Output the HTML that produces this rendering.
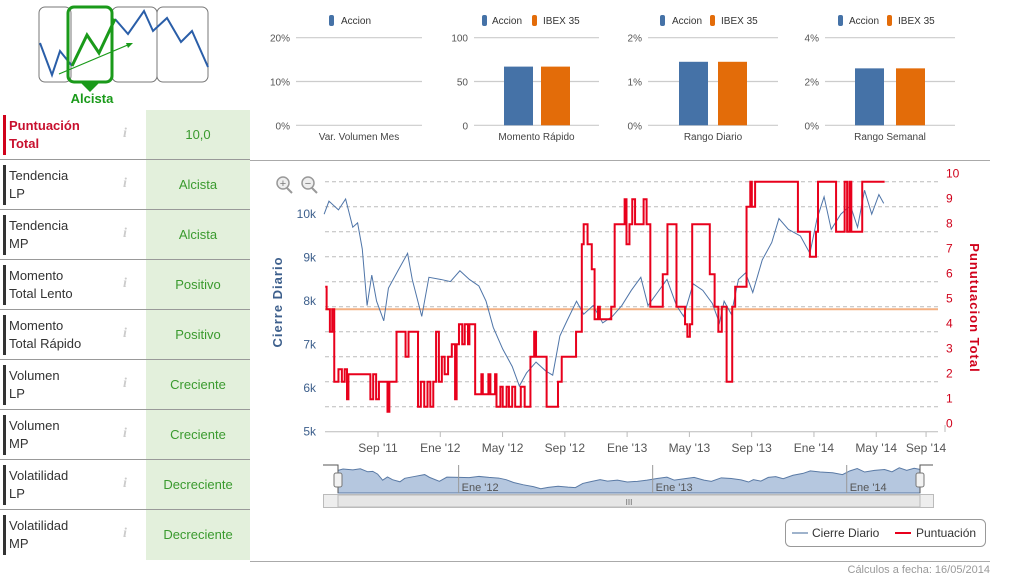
<!DOCTYPE html>
<html><head><meta charset="utf-8">
<style>
body{margin:0;width:1009px;height:575px;background:#fff;font-family:"Liberation Sans",sans-serif;position:relative;overflow:hidden}
.row{position:absolute;left:0;width:250px;height:49px;border-bottom:1px solid #999}
.bar{position:absolute;left:3px;top:5px;width:3px;height:40px;background:#333}
.lab{position:absolute;left:9px;top:7px;font-size:13px;line-height:18px;color:#333}
.inf{position:absolute;left:123px;top:16px;font-size:14px;font-style:italic;font-family:"Liberation Serif",serif;color:#ccc;font-weight:bold}
.val{position:absolute;left:146px;top:0;width:104px;height:49px;background:#e3f0dc;color:#3a9a2e;font-size:13px;text-align:center;line-height:49px}
svg text{font-family:"Liberation Sans",sans-serif}
</style></head><body>
<div style="position:absolute;left:0;top:0;width:250px;height:575px">
<svg width="250" height="110" style="position:absolute;left:0;top:0">
<rect x="39" y="7" width="32" height="75" rx="6" fill="#fff" stroke="#777"/>
<rect x="112" y="7" width="45" height="75" rx="6" fill="#fff" stroke="#777"/>
<rect x="157" y="7" width="51" height="75" rx="6" fill="#fff" stroke="#777"/>
<polyline points="40,43 52,75 60,51 72,66" fill="none" stroke="#2a5ea8" stroke-width="2"/>
<polyline points="115,19 128,34 144,11 153,31 167,18 181,42 192,31 208,67" fill="none" stroke="#2a5ea8" stroke-width="2"/>
<rect x="68" y="7" width="44" height="75" rx="6" fill="none" stroke="#1a9a1a" stroke-width="3"/>
<polyline points="72,66 87,35 99,53 115,19" fill="none" stroke="#1a9a1a" stroke-width="3"/>
<line x1="59" y1="74" x2="130" y2="44" stroke="#1a9a1a" stroke-width="1.2"/>
<polygon points="133,43 126,43 128,48" fill="#1a9a1a"/>
<polygon points="80,82 100,82 90,92" fill="#1a9a1a"/>
<text x="92" y="103" text-anchor="middle" font-size="13" font-weight="bold" fill="#1a9a1a">Alcista</text>
</svg>
<div class="row" style="top:110px"><div class="bar" style="background:#d0021b"></div><div class="lab" style="color:#c8102e;font-weight:bold">Puntuación<br>Total</div><div class="inf">i</div><div class="val">10,0</div></div>
<div class="row" style="top:160px"><div class="bar"></div><div class="lab">Tendencia<br>LP</div><div class="inf">i</div><div class="val">Alcista</div></div>
<div class="row" style="top:210px"><div class="bar"></div><div class="lab">Tendencia<br>MP</div><div class="inf">i</div><div class="val">Alcista</div></div>
<div class="row" style="top:260px"><div class="bar"></div><div class="lab">Momento<br>Total Lento</div><div class="inf">i</div><div class="val">Positivo</div></div>
<div class="row" style="top:310px"><div class="bar"></div><div class="lab">Momento<br>Total Rápido</div><div class="inf">i</div><div class="val">Positivo</div></div>
<div class="row" style="top:360px"><div class="bar"></div><div class="lab">Volumen<br>LP</div><div class="inf">i</div><div class="val">Creciente</div></div>
<div class="row" style="top:410px"><div class="bar"></div><div class="lab">Volumen<br>MP</div><div class="inf">i</div><div class="val">Creciente</div></div>
<div class="row" style="top:460px"><div class="bar"></div><div class="lab">Volatilidad<br>LP</div><div class="inf">i</div><div class="val">Decreciente</div></div>
<div class="row" style="top:510px;border-bottom:none;height:50px"><div class="bar"></div><div class="lab">Volatilidad<br>MP</div><div class="inf">i</div><div class="val" style="height:50px;line-height:50px">Decreciente</div></div>
</div>
<svg id="main" width="1009" height="575" style="position:absolute;left:0;top:0">
<line x1="250" y1="160.5" x2="990" y2="160.5" stroke="#aaa"/>
<line x1="250" y1="561.5" x2="990" y2="561.5" stroke="#aaa"/>
<text x="990" y="573" text-anchor="end" font-size="11" fill="#999">Cálculos a fecha: 16/05/2014</text>
<g><circle cx="283" cy="183" r="6" fill="#eee" stroke="#999" stroke-width="1.5"/><line x1="287" y1="188" x2="292" y2="193" stroke="#999" stroke-width="2"/><text x="283" y="187" text-anchor="middle" font-size="11" fill="#777">+</text></g>
<g><circle cx="308" cy="183" r="6" fill="#eee" stroke="#999" stroke-width="1.5"/><line x1="312" y1="188" x2="317" y2="193" stroke="#999" stroke-width="2"/><text x="308" y="187" text-anchor="middle" font-size="11" fill="#777">−</text></g>
<g id="grid"></g><g id="series"></g><g id="axes"></g><g id="nav"></g><g id="minis"></g>
<text transform="translate(282,302) rotate(-90)" text-anchor="middle" font-size="13" font-weight="bold" fill="#3d5f8c" letter-spacing="1">Cierre Diario</text>
<text transform="translate(970,308) rotate(90)" text-anchor="middle" font-size="13" font-weight="bold" fill="#d0021b" letter-spacing="1">Punutuacion Total</text>
<g>
<rect x="785.5" y="519.5" width="200" height="27" rx="5" fill="#fff" stroke="#999"/>
<g><line x1="792" y1="533" x2="808" y2="533" stroke="#9fb3cc" stroke-width="2"/><text x="812" y="537" font-size="12" fill="#333">Cierre Diario</text></g>
<g><line x1="895" y1="533" x2="911" y2="533" stroke="#e8001c" stroke-width="2"/><text x="916" y="537" font-size="12" fill="#333">Puntuación</text></g>
</g>
</svg>
<script>
// Main chart data (t = months since Jan 2011)
const priceT=[4.54,4.85,5.46,5.92,6.38,6.69,6.99,7.30,7.60,7.91,8.37,8.67,9.28,9.90,10.20,10.81,11.27,12.04,12.65,13.26,13.87,14.48,14.94,15.40,16.01,16.62,17.08,17.54,18.15,18.76,19.22,19.68,20.14,20.75,21.21,21.82,22.43,23.05,23.66,24.27,24.88,25.34,25.95,26.56,27.17,27.63,28.24,28.86,29.47,29.93,30.23,30.69,31.15,31.61,32.07,32.68,33.29,33.75,34.36,35.13,35.74,36.20,36.65,37.11,37.72,38.34,38.80,39.25,39.71,40.17,40.48];
const priceK=[10.0,10.3,10.1,10.35,9.7,9.8,9.2,7.9,8.6,8.0,7.55,8.3,8.7,9.1,8.5,7.65,8.55,8.5,8.45,8.7,8.5,8.35,8.0,7.4,6.9,6.5,6.05,6.35,6.6,6.4,6.3,7.2,7.55,8.0,7.7,7.9,7.5,7.65,7.9,8.25,8.55,7.9,8.2,8.5,7.9,7.65,8.4,8.25,7.95,7.5,8.0,7.7,8.5,8.65,8.2,8.95,9.35,9.9,9.65,9.5,9.1,9.9,10.4,9.65,10.0,10.2,9.7,10.55,10.0,10.45,10.25];
const scoreT=[4.61,4.70,4.91,5.06,5.19,5.46,5.68,5.86,6.01,6.10,7.51,7.69,7.88,8.06,8.61,8.73,9.19,9.77,9.96,10.57,10.75,10.97,11.18,11.36,11.55,11.73,11.91,12.10,12.28,12.50,12.74,12.95,13.05,13.20,13.41,13.57,13.78,13.87,14.24,14.64,14.73,15.09,15.22,15.52,15.61,15.86,16.01,16.26,16.41,16.62,16.81,17.17,17.42,17.79,18.03,18.15,18.83,19.56,19.80,20.72,21.09,21.21,21.46,21.73,21.91,22.13,22.25,22.98,23.20,23.84,23.96,24.15,24.33,24.51,25.06,25.25,25.49,26.29,26.59,27.17,27.72,27.87,28.03,28.18,29.31,29.62,29.86,30.08,30.39,30.75,30.94,31.67,31.91,32.01,32.22,32.37,34.97,35.74,36.13,36.26,37.42,37.97,38.13,38.28,38.40,39.10,40.54];
const scoreV=[5.8,4.9,4.0,4.9,2.0,2.5,2.0,2.5,1.3,2.3,1.3,2.3,1.3,2.0,0.8,2.0,4.0,3.0,4.0,1.0,2.0,1.0,2.0,1.0,2.0,4.0,2.0,3.0,2.3,3.0,3.5,1.3,3.5,4.3,3.5,4.3,3.5,4.3,1.5,2.3,1.5,2.3,1.5,2.3,1.0,1.8,1.0,1.8,1.0,1.8,1.0,1.8,1.0,3.0,4.0,3.0,1.0,2.0,3.0,4.0,7.5,8.3,7.5,6.5,4.5,5.0,4.5,5.0,8.3,9.3,7.5,8.3,9.3,8.3,9.3,8.3,5.0,6.3,8.3,5.0,4.3,3.8,4.3,8.3,6.3,5.0,4.0,5.0,2.0,5.0,5.8,9.0,10,9.0,10,10,8.0,7.0,8.0,10,8.0,10,8.0,10,8.0,10,10];
const refLine=4.9;
const xTickT=[8,12,16,20,24,28,32,36,40,43.2];
const xTickLabels=["Sep '11","Ene '12","May '12","Sep '12","Ene '13","May '13","Sep '13","Ene '14","May '14","Sep '14"];
const leftTicks=[5,6,7,8,9,10];
const rightTicks=[0,1,2,3,4,5,6,7,8,9,10];
const navTickT=[12,24,36];
const navTickLabels=["Ene '12","Ene '13","Ene '14"];
// mini bar charts
const miniTitles=["Var. Volumen Mes","Momento Rápido","Rango Diario","Rango Semanal"];
const miniAccion=[0,67,1.45,2.6];
const miniIbex=[null,67,1.45,2.6];
const miniMax=[20,100,2,4];
const miniTickLabels=[["0%","10%","20%"],["0","50","100"],["0%","1%","2%"],["0%","2%","4%"]];

const NS="http://www.w3.org/2000/svg";
function mk(p,tag,at){const e=document.createElementNS(NS,tag);for(const k in at)e.setAttribute(k,at[k]);p.appendChild(e);return e;}
const X=t=>378+(t-8)*15.57;
const YL=k=>431.7-(k-5)*43.5;
const YR=v=>431.7-v*25;
const grid=document.getElementById('grid'),ser=document.getElementById('series'),ax=document.getElementById('axes'),nav=document.getElementById('nav'),mini=document.getElementById('minis');
rightTicks.forEach(v=>{
  const l=mk(grid,'line',{x1:325,x2:938,y1:YR(v),y2:YR(v),stroke:'#bbb','stroke-dasharray':v===0?'':'4,3'});
  
  
  const t=mk(ax,'text',{x:946,y:YR(v)-4,'font-size':12,fill:'#d0021b'});t.textContent=v;
  
  
});
mk(ax,'line',{x1:945,x2:945,y1:425,y2:432,stroke:'#bbb'});
leftTicks.forEach(k=>{
  const t=mk(ax,'text',{x:316,y:YL(k)+4,'font-size':12,fill:'#3d5f8c','text-anchor':'end'});t.textContent=k+'k';
  
  
});
xTickT.forEach((tt,i)=>{
  mk(ax,'line',{x1:X(Math.min(tt,44)),x2:X(Math.min(tt,44)),y1:432,y2:437,stroke:'#bbb'});
  const t=mk(ax,'text',{x:X(tt),y:452,'font-size':12,fill:'#555','text-anchor':'middle'});t.textContent=xTickLabels[i];
  
  
});
const rl=mk(ser,'line',{x1:325,x2:938,y1:YR(refLine),y2:YR(refLine),stroke:'#f4b183','stroke-width':2});


const pp=mk(ser,'polyline',{points:priceT.map((t,i)=>X(t)+','+YL(priceK[i])).join(' '),fill:'none',stroke:'#4f75a8','stroke-width':1});


let sp=[];scoreT.forEach((t,i)=>{if(i>0)sp.push(X(t)+','+YR(scoreV[i-1]));sp.push(X(t)+','+YR(scoreV[i]));});
const sl=mk(ser,'polyline',{points:sp.join(' '),fill:'none',stroke:'#e8001c','stroke-width':2});


// navigator
const NX=t=>338+(t-4.54)*16.17, NY=k=>469+(10.3-k)*4.65;
const nb=mk(nav,'rect',{x:338,y:465,width:582,height:28,fill:'#fff',stroke:'none'});


let ap='338,493 '+priceT.map((t,i)=>NX(t)+','+NY(priceK[i])).join(' ')+' 920,'+NY(priceK[priceK.length-1])+' 920,493';
const na=mk(nav,'polygon',{points:ap,fill:'#b5c7df',stroke:'#5a7aa5','stroke-width':1});


navTickT.forEach((tt,i)=>{mk(nav,'line',{x1:NX(tt),x2:NX(tt),y1:465,y2:493,stroke:'#999'});
  const t=mk(nav,'text',{x:NX(tt)+3,y:491,'font-size':11,fill:'#555'});t.textContent=navTickLabels[i];
  
  });
mk(nav,'polyline',{points:'323,465 338,465 338,493',fill:'none',stroke:'#555'});
mk(nav,'polyline',{points:'933,465 920,465 920,493',fill:'none',stroke:'#555'});
[338,920].forEach(x=>{const h=mk(nav,'rect',{x:x-4,y:473,width:8,height:14,rx:2,fill:'#f2f2f2',stroke:'#777'});
  
  });
const sb=mk(nav,'rect',{x:323.5,y:494.5,width:610,height:13,fill:'#eee',stroke:'#bbb'});


mk(nav,'rect',{x:338,y:495,width:582,height:12,fill:'#e6e6e6',stroke:'#bbb'});
const st=mk(nav,'text',{x:629,y:505,'font-size':8,fill:'#666','text-anchor':'middle'});st.textContent='III';
// mini charts
const gx=[[296,422],[474,599],[648,778],[825,955]];
const legX=[[331,341],[484,492,534,543],[662,672,712,721],[840,849,889,898]];
const barX=[[null,null],[504,541],[679,718],[855,896]];
const MY=(v,i)=>125.3-v/miniMax[i]*87.6;
miniTitles.forEach((title,i)=>{
  const g=mk(mini,'g',{});
  
  
  [0,0.5,1].forEach((f,j)=>{const y=MY(f*miniMax[i],i);mk(g,'line',{x1:gx[i][0],x2:gx[i][1],y1:y,y2:y,stroke:'#ccc','stroke-width':1.2});
    const t=mk(g,'text',{x:gx[i][0]-6,y:y+4,'font-size':10,fill:'#555','text-anchor':'end'});t.textContent=miniTickLabels[i][j];});
  const ct=mk(g,'text',{x:(gx[i][0]+gx[i][1])/2,y:140,'font-size':10,fill:'#444','text-anchor':'middle'});ct.textContent=title;
  [[miniAccion,'#4572a7','Accion'],[miniIbex,'#e36c09','IBEX 35']].forEach((s,k)=>{
    if(s[0][i]===null)return;
    const L=legX[i];mk(g,'rect',{x:L[2*k]-2,y:15,width:5,height:11,rx:2,fill:s[1]});
    const lt=mk(g,'text',{x:L[2*k+1],y:24,'font-size':10,fill:'#333'});lt.textContent=s[2];
    
    
    if(barX[i][k]!==null){const v=s[0][i];const b=mk(g,'rect',{x:barX[i][k],y:MY(v,i),width:29,height:125.3-MY(v,i),fill:s[1]});
      
      }
  });
});
</script>
</body></html>
